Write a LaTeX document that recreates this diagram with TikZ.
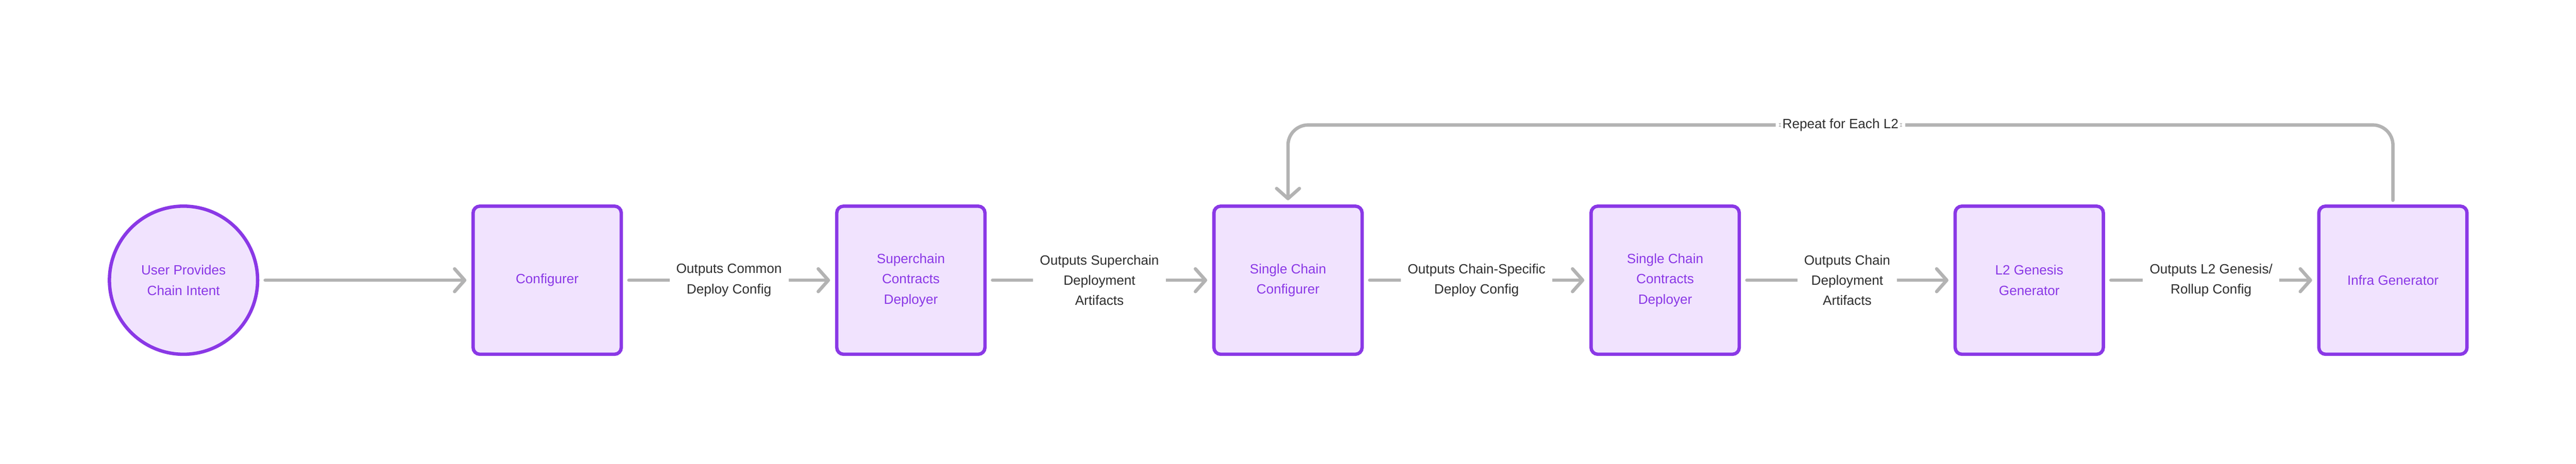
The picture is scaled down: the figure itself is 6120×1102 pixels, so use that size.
\documentclass[tikz,border=0pt]{standalone}
\usepackage{fontspec}
\setmainfont{Liberation Sans}
\usetikzlibrary{arrows.meta}
\definecolor{pborder}{HTML}{8A38E6}
\definecolor{pfill}{HTML}{F1E3FE}
\definecolor{pline}{HTML}{B3B3B3}
\definecolor{ptext}{HTML}{2F2F2F}
\tikzset{
  stagebox/.style={draw=pborder, fill=pfill, line width=4pt, rounded corners=8pt,
    minimum width=176pt, minimum height=176pt, inner sep=0pt, align=center,
    text=pborder, font=\fontsize{16pt}{24pt}\selectfont},
  startcircle/.style={stagebox, circle, rounded corners=0pt, minimum size=176pt},
  flow/.style={draw=pline, line width=4pt, line cap=round, line join=round,
    shorten <=7pt, shorten >=6pt,
    -{Straight Barb[length=12pt,width=27pt,round]}},
  flowlabel/.style={fill=white, text=ptext, align=center, inner xsep=8pt, inner ysep=2pt,
    font=\fontsize{16pt}{24pt}\selectfont}
}
\begin{document}
\begin{tikzpicture}[x=0.5pt,y=-0.5pt]
  \fill[white] (0,0) rectangle (6120,1102);
  \useasboundingbox (0,0) rectangle (6120,1102);

  \node[startcircle] (user) at (436,666) {User Provides\\Chain Intent};
  \node[stagebox] (conf) at (1300,666) {Configurer};
  \node[stagebox] (super) at (2164,666) {Superchain\\Contracts\\Deployer};
  \node[stagebox] (scc) at (3060,666) {Single Chain\\Configurer};
  \node[stagebox] (sccd) at (3956,666) {Single Chain\\Contracts\\Deployer};
  \node[stagebox] (l2g) at (4821,666) {L2 Genesis\\Generator};
  \node[stagebox] (infra) at (5685,666) {Infra Generator};

  \draw[flow] (user) -- (conf);
  \draw[flow] (conf) -- node[flowlabel] {Outputs Common\\Deploy Config} (super);
  \draw[flow] (super) -- node[flowlabel] {Outputs Superchain\\Deployment\\Artifacts} (scc);
  \draw[flow] (scc) -- node[flowlabel] {Outputs Chain-Specific\\Deploy Config} (sccd);
  \draw[flow] (sccd) -- node[flowlabel] {Outputs Chain\\Deployment\\Artifacts} (l2g);
  \draw[flow] (l2g) -- node[flowlabel] {Outputs L2 Genesis/\\Rollup Config} (infra);

  \coordinate (loopR) at (5685,297);
  \coordinate (loopL) at (3060,297);
  \draw[flow, rounded corners=24pt, shorten <=5pt, shorten >=5pt] (infra.north) -- (loopR)
    -- node[flowlabel] {Repeat for Each L2} (loopL) -- (scc.north);
\end{tikzpicture}
\end{document}
